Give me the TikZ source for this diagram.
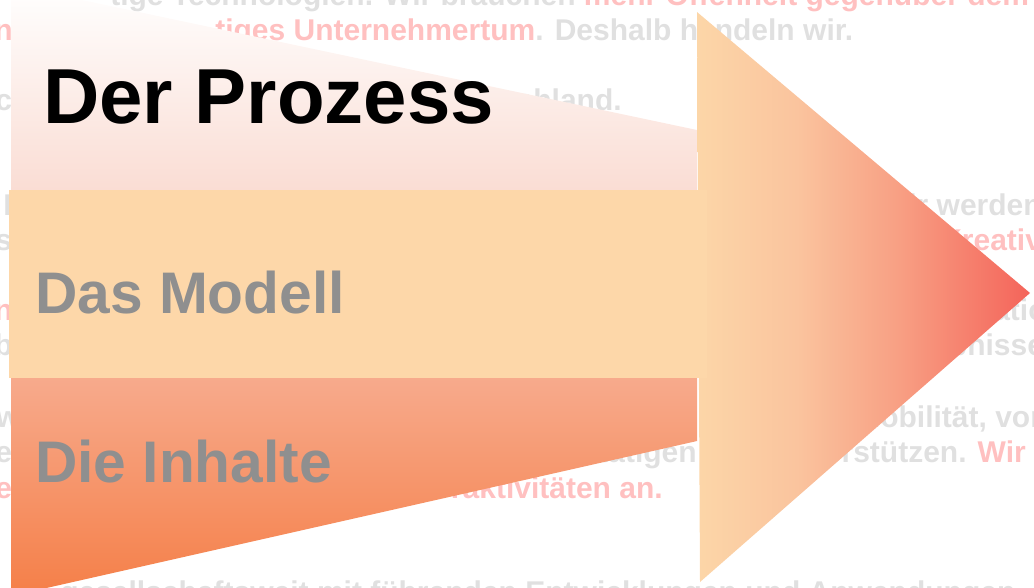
\documentclass[tikz,border=0pt]{standalone}
\usepackage{fontspec}
\setmainfont{Liberation Sans}
\definecolor{bggray}{RGB}{224,224,224}
\definecolor{bgpink}{RGB}{255,192,192}
\definecolor{labgray}{RGB}{143,143,143}
\definecolor{topband}{RGB}{250,221,212}
\definecolor{topmid}{RGB}{253,241,237}
\definecolor{midband}{RGB}{253,215,169}
\definecolor{botA}{RGB}{247,170,140}
\definecolor{botB}{RGB}{245,127,72}
\definecolor{hA}{RGB}{252,214,168}
\definecolor{hB}{RGB}{250,196,158}
\definecolor{hC}{RGB}{248,160,132}
\definecolor{hD}{RGB}{244,100,90}
\pgfdeclarehorizontalshading{headshade}{100bp}{color(0bp)=(hA); color(25bp)=(hA); color(40bp)=(hB); color(55bp)=(hC); color(75bp)=(hD); color(100bp)=(hD)}
\begin{document}
\begin{tikzpicture}[x=0.75pt,y=-0.75pt,
  bgtext/.style={inner sep=0pt, anchor=base west, font=\fontsize{22.5}{27}\selectfont\bfseries, text=bggray},
  bgpinktext/.style={bgtext, text=bgpink},
  lbl/.style={inner sep=0pt, anchor=base west, font=\fontsize{44}{50}\selectfont\bfseries, text=labgray},
  lblbig/.style={lbl, font=\fontsize{58.5}{64}\selectfont\bfseries, text=black}]
\useasboundingbox (0,0) rectangle (1034,587);
\clip (0,0) rectangle (1034,587);
% background paragraph (faded)
\node[bgtext] (l1) at (110,5) {tige Technologien. Wir brauchen \textcolor{bgpink}{mehr Offenheit gegenüber dem}};
\node[bgpinktext] (l2a) at (-6,40) {n};
\node[bgpinktext] (l2b) at (215,40) {tiges Unternehmertum\textcolor{bggray}{. Deshalb handeln wir.}};
\node[bgtext] (l3a) at (-5,110) {c};
\node[bgtext, anchor=base east] (l3b) at (622,110) {Deutschland.};
\node[bgtext] (l4a) at (3,215) {I};
\node[bgtext] (l4b) at (880,215) {Wir werden};
\node[bgtext] (l5a) at (-5,250) {s};
\node[bgpinktext] (l5b) at (940,250) {Kreativität};
\node[bgpinktext] (l6a) at (-6,320) {n};
\node[bgtext] (l6b) at (993,320) {ation};
\node[bgtext] (l7a) at (-6,355) {b};
\node[bgtext] (l7b) at (882,355) {Ergebnisse};
\node[bgtext] (l8a) at (-4,427) {w};
\node[bgtext] (l8b) at (855,427) {Mobilität, von};
\node[bgtext] (l9a) at (-5,462) {e};
\node[bgtext, anchor=base east] (l9b) at (697,462) {tätigen};
\node[bgtext] (l9c) at (778,462) {unterstützen. \textcolor{bgpink}{Wir}};
\node[bgpinktext] (l10a) at (-5,498) {e};
\node[bgpinktext, anchor=base east] (l10b) at (663,498) {raktivitäten an.};
\node[bgtext] (l11) at (60,602) {gesellschaftsweit mit führenden Entwicklungen und Anwendungen};
% arrow
\shade[top color=white, middle color=topmid, bottom color=topband] (11,-15) -- (697,130) -- (697,190) -- (11,190) -- cycle;
\shade[top color=botA, bottom color=botB] (11,378) -- (697,378) -- (697,441) -- (11,596) -- cycle;
\shade[shading=headshade] (697,12) -- (1030,293) -- (700,582) -- cycle;
\fill[midband] (9,190) rectangle (707,378);
% labels
\node[lblbig] (prozess) at (43,123) {Der Prozess};
\node[lbl] (modell) at (35,313) {Das Modell};
\node[lbl] (inhalte) at (35,482) {Die Inhalte};
\end{tikzpicture}
\end{document}
